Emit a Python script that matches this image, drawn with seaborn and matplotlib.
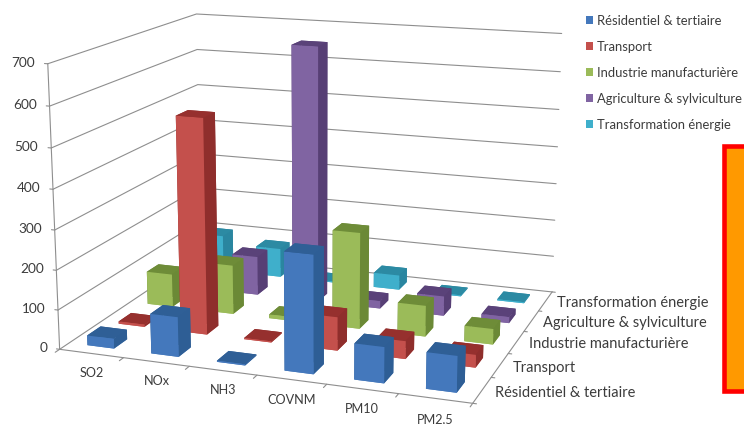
import matplotlib
matplotlib.use("Agg")
import matplotlib.pyplot as plt
from matplotlib.patches import Patch, Rectangle
from mpl_toolkits.mplot3d import proj3d
import seaborn as sns

# Emissions by pollutant (columns) and sector (rows), in kt
pollutants = ["SO2", "NOx", "NH3", "COVNM", "PM10", "PM2,5"]
sectors = ["Résidentiel & tertiaire", "Transport", "Industrie manufacturière",
           "Agriculture & sylviculture", "Transformation énergie"]

residentiel = [25, 100, 3, 290, 88, 88]
transport = [6, 550, 3, 85, 45, 32]
industrie = [88, 130, 10, 250, 80, 40]
agriculture = [2, 105, 680, 20, 52, 16]
transformation = [100, 80, 3, 40, 3, 3]
series = [residentiel, transport, industrie, agriculture, transformation]

z_ticks = [0, 100, 200, 300, 400, 500, 600, 700]

front_colors = ["#4478BC", "#C4504C", "#9BBB59", "#8064A2", "#3FAFCB"]
top_colors = ["#2F5F96", "#96302E", "#6E8C38", "#5A4279", "#2C8AA3"]
side_colors = ["#2E5E95", "#8F2E2C", "#6B8936", "#573F75", "#2A86A0"]

sns.set_theme(style="white")
plt.rcParams["font.family"] = ["Lato", "DejaVu Sans"]
TEXT = "#3C3C3C"
GRID = "#8E8E8E"

fig = plt.figure(figsize=(7.44, 4.24), dpi=100)
ax = fig.add_axes([0.025216, -0.146909, 0.785124, 1.377670], projection="3d")
ax.set_xlim(0, 6, view_margin=0)
ax.set_ylim(0, 5, view_margin=0)
ax.set_zlim(0, 700, view_margin=0)
ax.view_init(elev=14.2953, azim=-70.2338)
ax.set_proj_type("persp", focal_length=0.51686)
ax.set_box_aspect((1.46970, 1.20925, 1))
ax.set_axis_off()
ax.computed_zorder = False


def label_at(x, y, z, text, **kwargs):
    """Write a flat label at the projected position of a 3D point."""
    px, py, _ = proj3d.proj_transform(x, y, z, ax.get_proj())
    ax.text2D(px, py, text, transform=ax.transData, color=TEXT, clip_on=False, **kwargs)


# Walls, floor and tick marks
nx, ny = len(pollutants), len(sectors)
for z in z_ticks:
    ax.plot([0, 0, nx], [0, ny, ny], [z, z, z], color=GRID, lw=0.8, zorder=1)
    ax.plot([-0.05, 0], [0, 0], [z, z], color=GRID, lw=0.8, zorder=1)
    label_at(-0.2, 0, z, str(z), ha="right", va="center", fontsize=9.8)
ax.plot([0, 0], [0, 0], [0, 700], color=GRID, lw=0.8, zorder=1)
ax.plot([0, nx, nx], [0, 0, ny], [0, 0, 0], color=GRID, lw=0.8, zorder=1)
for i in range(nx + 1):
    ax.plot([i, i], [0, -0.13], [0, 0], color=GRID, lw=0.8, zorder=1)
for j in range(ny + 1):
    ax.plot([nx, nx + 0.05], [j, j], [0, 0], color=GRID, lw=0.8, zorder=1)

for i, name in enumerate(pollutants):
    label_at(i + 0.5, 0, -49, name, ha="center", va="center", fontsize=9.1)
for j, name in enumerate(sectors):
    label_at(nx + 0.18, j + 0.5, -2, name, ha="left", va="center", fontsize=10.5)

# Bars, painted from the back row to the front and left to right
WIDTH, DEPTH = 0.42, 0.42
for j in reversed(range(ny)):
    for i in range(nx):
        faces = [front_colors[j], top_colors[j], front_colors[j],
                 side_colors[j], side_colors[j], side_colors[j]]
        ax.bar3d(i + 0.5 - WIDTH / 2, j + 0.5 - DEPTH / 2, 0, WIDTH, DEPTH,
                 series[j][i], color=faces, shade=False, edgecolor="none",
                 zorder=10 + (ny - j) * 10 + i)

handles = [Patch(facecolor=c, edgecolor="none") for c in front_colors]
fig.legend(handles, sectors, loc="upper left", bbox_to_anchor=(586 / 744, 1 - 15 / 424),
           frameon=False, fontsize=9.4, handlelength=0.55, handleheight=0.55,
           handletextpad=0.28, labelspacing=1.07, borderpad=0, borderaxespad=0,
           labelcolor=TEXT)

# Highlight box running off the right edge
fig.add_artist(Rectangle((724 / 744, 1 - 391 / 424), 40 / 744, 244.5 / 424,
                         transform=fig.transFigure, facecolor="#FF9900",
                         edgecolor="#FF0000", linewidth=3.3))

fig.savefig("out.png", dpi=100, facecolor="white")
